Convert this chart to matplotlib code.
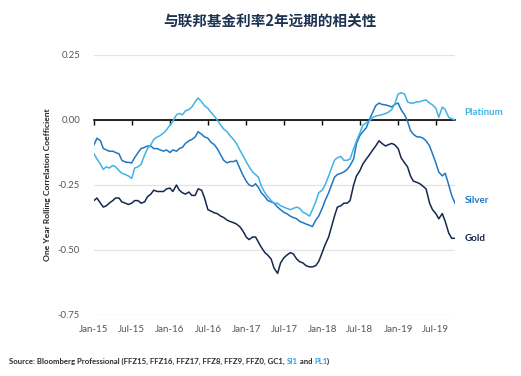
import matplotlib
matplotlib.use("Agg")
import matplotlib.pyplot as plt
import pandas as pd

# ---- data (semi-monthly readings, Jan-2015 .. Oct-2019) ----
dates = pd.date_range("2015-01-01", periods=115, freq="SMS")

gold = [-0.31, -0.30, -0.32, -0.335, -0.33, -0.32, -0.31, -0.30, -0.30, -0.315,
        -0.32, -0.325, -0.32, -0.31, -0.31, -0.32, -0.315, -0.295, -0.285, -0.27,
        -0.275, -0.275, -0.275, -0.265, -0.262, -0.275, -0.25, -0.27, -0.28, -0.285,
        -0.277, -0.29, -0.29, -0.265, -0.27, -0.30, -0.345, -0.35, -0.357, -0.36,
        -0.37, -0.375, -0.385, -0.39, -0.395, -0.40, -0.41, -0.425, -0.45, -0.46,
        -0.45, -0.45, -0.47, -0.49, -0.51, -0.52, -0.535, -0.57, -0.59, -0.55,
        -0.53, -0.52, -0.51, -0.515, -0.535, -0.545, -0.55, -0.56, -0.565, -0.565,
        -0.56, -0.545, -0.51, -0.48, -0.45, -0.41, -0.37, -0.335, -0.33, -0.32,
        -0.32, -0.31, -0.25, -0.215, -0.195, -0.17, -0.15, -0.135, -0.115, -0.10,
        -0.08, -0.09, -0.10, -0.095, -0.09, -0.095, -0.11, -0.145, -0.165, -0.18,
        -0.215, -0.235, -0.24, -0.245, -0.255, -0.265, -0.32, -0.345, -0.36, -0.38,
        -0.36, -0.39, -0.435, -0.455, -0.455]

silver = [-0.095, -0.07, -0.08, -0.11, -0.115, -0.12, -0.12, -0.125, -0.13, -0.155,
          -0.162, -0.163, -0.165, -0.145, -0.125, -0.11, -0.105, -0.10, -0.10, -0.11,
          -0.11, -0.115, -0.12, -0.115, -0.125, -0.115, -0.12, -0.11, -0.105, -0.09,
          -0.08, -0.075, -0.065, -0.045, -0.055, -0.065, -0.07, -0.085, -0.095, -0.11,
          -0.135, -0.155, -0.165, -0.16, -0.16, -0.155, -0.185, -0.21, -0.235, -0.25,
          -0.255, -0.245, -0.26, -0.28, -0.295, -0.31, -0.315, -0.32, -0.335, -0.345,
          -0.355, -0.36, -0.37, -0.375, -0.38, -0.39, -0.395, -0.40, -0.405, -0.41,
          -0.385, -0.37, -0.34, -0.31, -0.28, -0.25, -0.22, -0.21, -0.205, -0.20,
          -0.19, -0.175, -0.15, -0.09, -0.06, -0.045, -0.03, 0.00, 0.03, 0.055,
          0.065, 0.06, 0.058, 0.055, 0.05, 0.06, 0.065, 0.04, 0.02, -0.005,
          -0.04, -0.055, -0.065, -0.065, -0.07, -0.08, -0.10, -0.13, -0.165, -0.20,
          -0.215, -0.205, -0.25, -0.29, -0.32]

platinum = [-0.13, -0.15, -0.17, -0.19, -0.18, -0.185, -0.175, -0.18, -0.195, -0.205,
            -0.21, -0.215, -0.225, -0.185, -0.18, -0.17, -0.135, -0.11, -0.095, -0.075,
            -0.065, -0.06, -0.05, -0.038, -0.02, -0.005, 0.02, 0.025, 0.02, 0.035,
            0.04, 0.05, 0.07, 0.085, 0.07, 0.055, 0.045, 0.03, 0.015, 0.0,
            -0.02, -0.035, -0.045, -0.06, -0.075, -0.09, -0.115, -0.135, -0.16, -0.18,
            -0.20, -0.21, -0.22, -0.255, -0.28, -0.295, -0.31, -0.32, -0.32, -0.33,
            -0.335, -0.34, -0.345, -0.34, -0.335, -0.34, -0.355, -0.36, -0.37, -0.345,
            -0.315, -0.28, -0.27, -0.25, -0.215, -0.185, -0.155, -0.145, -0.14, -0.155,
            -0.155, -0.15, -0.11, -0.08, -0.05, -0.02, -0.01, -0.005, 0.01, 0.015,
            0.018, 0.02, 0.025, 0.03, 0.04, 0.06, 0.10, 0.105, 0.10, 0.07,
            0.065, 0.065, 0.07, 0.07, 0.075, 0.077, 0.065, 0.058, 0.045, 0.01,
            0.05, 0.04, 0.01, 0.005, 0.0]

series_names = ["Platinum", "Silver", "Gold"]
series_colors = ["#41b3e6", "#1f77c0", "#13294b"]
label_y = [0.027, -0.31, -0.455]

tick_dates = pd.date_range("2015-01-01", "2019-07-01", freq="6MS")
tick_labels = [d.strftime("%b-%y") for d in tick_dates]
y_ticks = [0.25, 0.0, -0.25, -0.50, -0.75]

# ---- figure ----
W, H = 521, 376
fig = plt.figure(figsize=(W / 100, H / 100), dpi=100)
ax = fig.add_axes([94 / W, 1 - 315 / H, (455 - 94) / W, (315 - 55) / H])

ax.set_xlim(pd.Timestamp("2015-01-01"), pd.Timestamp("2019-10-01"))
ax.set_ylim(-0.75, 0.25)

ax.plot(dates, silver, color=series_colors[1], lw=1.1, zorder=3)
ax.plot(dates, gold, color=series_colors[2], lw=1.1, zorder=3)
ax.plot(dates, platinum, color=series_colors[0], lw=1.1, zorder=4)

# grid
ax.set_yticks(y_ticks)
ax.set_yticklabels([f"{v:.2f}" for v in y_ticks], fontfamily="Lato", fontsize=6.8, color="#555555")
ax.yaxis.grid(True, color="#e3e3e3", lw=0.9)
ax.tick_params(axis="y", length=0, pad=10)
for sp in ["left", "right", "top"]:
    ax.spines[sp].set_visible(False)

# zero line as x-axis spine with tick marks
ax.spines["bottom"].set_position(("data", 0))
ax.spines["bottom"].set_color("black")
ax.spines["bottom"].set_linewidth(1.2)
ax.spines["bottom"].set_zorder(2)
ax.set_xticks(tick_dates)
ax.tick_params(axis="x", direction="out", length=3.5, width=1.0, color="black", labelbottom=False)

sec = ax.secondary_xaxis(0.0)
sec.set_xticks(tick_dates)
sec.set_xticklabels(tick_labels, fontfamily="Lato", fontsize=7, color="#555555")
sec.tick_params(length=0, pad=7)
sec.spines["bottom"].set_visible(False)

# series labels
for name, col, yv in zip(series_names, series_colors, label_y):
    ax.annotate(name, xy=(1.0, yv), xycoords=("axes fraction", "data"),
                xytext=(7, 0), textcoords="offset points",
                va="center", ha="left", fontfamily="Lato", fontweight="bold",
                fontsize=7, color=col, annotation_clip=False)

# title
fig.text(270 / W, 1 - 22 / H, "与联邦基金利率2年远期的相关性",
         ha="center", va="center", fontsize=10.5, fontweight="bold",
         family=["Noto Sans CJK SC", "DejaVu Sans"], color="#1d3352")

# y label
fig.text(48 / W, 1 - 185 / H, "One Year Rolling Correlation Coefficient",
         rotation=90, ha="center", va="center", fontsize=6.1,
         fontfamily="Lato", fontweight="bold", color="#222222")

# source line with coloured parts
parts = [("Source: Bloomberg Professional (FFZ15, FFZ16, FFZ17, FFZ8, FFZ9, FFZ0, GC1, ", "#2b2b2b"),
         ("SI1", "#2aa0e0"), (" and ", "#2b2b2b"), ("PL1", "#2aa0e0"), (")", "#2b2b2b")]
renderer = fig.canvas.get_renderer()
x_px = 9
for txt, col in parts:
    t = fig.text(x_px / W, 1 - 361 / H, txt, ha="left", va="center", fontsize=5.6,
                 fontfamily="Lato", fontweight="bold", color=col)
    bb = t.get_window_extent(renderer=renderer)
    x_px = bb.x1

fig.savefig("out.png", dpi=100)
